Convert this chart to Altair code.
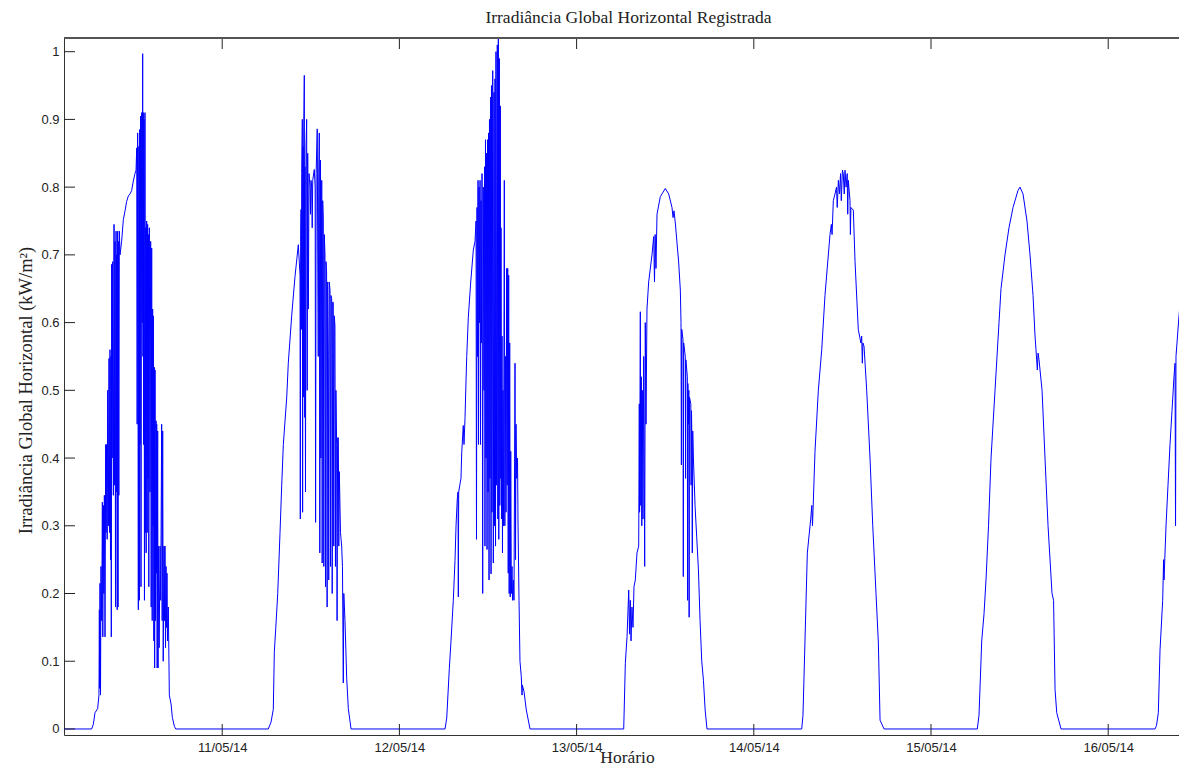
import altair as alt
import pandas as pd

# (hour of day, irradiance kW/m2), one list per day
day_10 = [(0.0, 0), (6.32, 0), (6.55, 0.007), (6.77, 0.024), (7.13, 0.03), (7.31, 0.05), (7.36, 0.176), (7.40, 0.06),
          (7.45, 0.215), (7.52, 0.05), (7.58, 0.24), (7.68, 0.16), (7.77, 0.335), (7.83, 0.136), (7.90, 0.33), (7.97, 0.20),
          (8.04, 0.345), (8.13, 0.136), (8.22, 0.42), (8.28, 0.29), (8.35, 0.42), (8.42, 0.28), (8.49, 0.50), (8.58, 0.30),
          (8.67, 0.547), (8.74, 0.29), (8.80, 0.56), (8.87, 0.25), (8.94, 0.55), (8.98, 0.136), (9.03, 0.686), (9.10, 0.40),
          (9.17, 0.69), (9.26, 0.345), (9.35, 0.745), (9.41, 0.36), (9.48, 0.72), (9.55, 0.18), (9.62, 0.735), (9.66, 0.35),
          (9.71, 0.70), (9.78, 0.176), (9.84, 0.735), (9.89, 0.18), (9.93, 0.72), (10.00, 0.345), (10.07, 0.735), (10.16, 0.70),
          (10.38, 0.72), (10.61, 0.752), (10.84, 0.765), (11.06, 0.779), (11.29, 0.787), (11.51, 0.79), (11.74, 0.795),
          (11.96, 0.809), (12.19, 0.82), (12.33, 0.825), (12.42, 0.858), (12.48, 0.45), (12.55, 0.88), (12.64, 0.176),
          (12.71, 0.86), (12.78, 0.19), (12.82, 0.885), (12.87, 0.42), (12.94, 0.905), (13.00, 0.21), (13.09, 0.91),
          (13.16, 0.60), (13.23, 0.997), (13.27, 0.55), (13.32, 0.91), (13.36, 0.42), (13.41, 0.90), (13.47, 0.19),
          (13.54, 0.91), (13.59, 0.29), (13.64, 0.74), (13.70, 0.26), (13.77, 0.75), (13.84, 0.29), (13.90, 0.745),
          (13.95, 0.37), (14.00, 0.73), (14.06, 0.21), (14.13, 0.74), (14.22, 0.35), (14.31, 0.72), (14.38, 0.18),
          (14.45, 0.71), (14.52, 0.16), (14.58, 0.62), (14.63, 0.30), (14.67, 0.61), (14.74, 0.13), (14.81, 0.534),
          (14.85, 0.09), (14.90, 0.53), (14.97, 0.16), (15.04, 0.455), (15.08, 0.23), (15.13, 0.45), (15.19, 0.09),
          (15.26, 0.44), (15.31, 0.09), (15.35, 0.27), (15.46, 0.12), (15.58, 0.27), (15.67, 0.19), (15.80, 0.45),
          (15.87, 0.16), (15.94, 0.44), (16.01, 0.10), (16.12, 0.27), (16.19, 0.16), (16.25, 0.27), (16.32, 0.12),
          (16.39, 0.24), (16.46, 0.15), (16.52, 0.23), (16.59, 0.13), (16.70, 0.18), (16.84, 0.05), (17.07, 0.037),
          (17.25, 0.017), (17.52, 0.004), (17.70, 0)]

day_11 = [(6.24, 0), (6.61, 0.01), (6.92, 0.029), (7.06, 0.114), (7.25, 0.148), (7.52, 0.20), (7.83, 0.29), (8.06, 0.36),
          (8.28, 0.42), (8.74, 0.49), (8.95, 0.54), (9.41, 0.61), (9.86, 0.668), (10.31, 0.715), (10.54, 0.67), (10.58, 0.31),
          (10.63, 0.73), (10.68, 0.767), (10.72, 0.59), (10.77, 0.82), (10.85, 0.90), (10.89, 0.32), (10.95, 0.86),
          (10.99, 0.49), (11.04, 0.88), (11.12, 0.965), (11.18, 0.46), (11.21, 0.83), (11.28, 0.35), (11.35, 0.86),
          (11.44, 0.90), (11.51, 0.50), (11.58, 0.85), (11.67, 0.62), (11.76, 0.82), (11.90, 0.80), (11.96, 0.76),
          (12.03, 0.81), (12.12, 0.80), (12.19, 0.74), (12.26, 0.81), (12.47, 0.826), (12.59, 0.80), (12.65, 0.305),
          (12.72, 0.82), (12.87, 0.886), (12.94, 0.70), (13.01, 0.55), (13.08, 0.82), (13.15, 0.88), (13.22, 0.26),
          (13.31, 0.84), (13.37, 0.40), (13.48, 0.81), (13.54, 0.245), (13.61, 0.78), (13.69, 0.754), (13.76, 0.24),
          (13.83, 0.73), (13.92, 0.70), (13.99, 0.21), (14.06, 0.69), (14.14, 0.675), (14.21, 0.18), (14.28, 0.66),
          (14.37, 0.55), (14.43, 0.22), (14.50, 0.66), (14.60, 0.648), (14.67, 0.24), (14.73, 0.64), (14.83, 0.635),
          (14.90, 0.20), (14.97, 0.63), (15.04, 0.63), (15.11, 0.27), (15.18, 0.61), (15.27, 0.595), (15.34, 0.24),
          (15.40, 0.50), (15.50, 0.42), (15.56, 0.16), (15.63, 0.43), (15.73, 0.43), (15.79, 0.27), (15.86, 0.38),
          (15.96, 0.325), (16.02, 0.29), (16.18, 0.27), (16.29, 0.24), (16.40, 0.068), (16.47, 0.20), (16.63, 0.16),
          (16.86, 0.075), (17.08, 0.03), (17.45, 0)]

day_12 = [(6.18, 0), (6.41, 0.016), (6.76, 0.089), (6.99, 0.13), (7.30, 0.19), (7.53, 0.249), (7.67, 0.30), (7.84, 0.34),
          (7.94, 0.35), (7.98, 0.195), (8.03, 0.35), (8.21, 0.362), (8.34, 0.37), (8.44, 0.408), (8.65, 0.448), (8.75, 0.42),
          (8.89, 0.46), (9.02, 0.514), (9.12, 0.55), (9.33, 0.607), (9.66, 0.66), (10.01, 0.707), (10.24, 0.72),
          (10.38, 0.75), (10.44, 0.28), (10.51, 0.77), (10.58, 0.55), (10.65, 0.81), (10.71, 0.42), (10.78, 0.80),
          (10.85, 0.60), (10.92, 0.81), (10.98, 0.42), (11.05, 0.78), (11.12, 0.57), (11.19, 0.82), (11.28, 0.20),
          (11.36, 0.80), (11.46, 0.50), (11.53, 0.83), (11.59, 0.27), (11.66, 0.87), (11.73, 0.40), (11.80, 0.85),
          (11.87, 0.265), (11.93, 0.87), (12.00, 0.35), (12.07, 0.88), (12.14, 0.22), (12.20, 0.90), (12.27, 0.37),
          (12.37, 0.933), (12.41, 0.229), (12.47, 0.95), (12.54, 0.32), (12.64, 0.972), (12.72, 0.245), (12.81, 0.94),
          (12.88, 0.30), (12.95, 0.96), (13.02, 0.27), (13.08, 1.0), (13.15, 0.36), (13.26, 1.01), (13.33, 0.31),
          (13.40, 1.03), (13.46, 0.28), (13.53, 0.99), (13.60, 0.33), (13.67, 0.92), (13.73, 0.37), (13.76, 0.74),
          (13.83, 0.31), (13.90, 0.58), (13.96, 0.26), (14.03, 0.50), (14.10, 0.30), (14.21, 0.81), (14.28, 0.30),
          (14.37, 0.55), (14.44, 0.32), (14.53, 0.68), (14.60, 0.36), (14.67, 0.68), (14.74, 0.23), (14.80, 0.67),
          (14.87, 0.20), (14.94, 0.57), (15.01, 0.195), (15.08, 0.41), (15.16, 0.20), (15.25, 0.24), (15.32, 0.19),
          (15.43, 0.22), (15.52, 0.19), (15.66, 0.54), (15.73, 0.25), (15.79, 0.45), (15.89, 0.37), (16.00, 0.40),
          (16.06, 0.31), (16.20, 0.19), (16.33, 0.10), (16.51, 0.077), (16.61, 0.05), (16.65, 0.065), (16.88, 0.055),
          (17.19, 0.028), (17.69, 0)]

day_13 = [(6.38, 0), (6.60, 0.097), (6.83, 0.136), (7.06, 0.205), (7.17, 0.14), (7.27, 0.19), (7.37, 0.13), (7.50, 0.18),
          (7.64, 0.15), (7.77, 0.21), (7.95, 0.22), (8.18, 0.26), (8.41, 0.27), (8.49, 0.48), (8.53, 0.32), (8.63, 0.616),
          (8.69, 0.33), (8.76, 0.52), (8.83, 0.30), (8.90, 0.50), (8.99, 0.31), (9.09, 0.55), (9.22, 0.24), (9.30, 0.60),
          (9.40, 0.45), (9.53, 0.62), (9.76, 0.66), (10.21, 0.70), (10.44, 0.727), (10.55, 0.66), (10.64, 0.73),
          (10.75, 0.68), (10.89, 0.76), (11.34, 0.786), (12.01, 0.798), (12.47, 0.79), (12.92, 0.77), (13.06, 0.755),
          (13.19, 0.765), (13.37, 0.747), (13.83, 0.688), (14.05, 0.648), (14.14, 0.60), (14.19, 0.39), (14.24, 0.59),
          (14.41, 0.575), (14.45, 0.225), (14.50, 0.57), (14.72, 0.55), (14.76, 0.37), (14.80, 0.545), (15.00, 0.52),
          (15.03, 0.19), (15.07, 0.51), (15.14, 0.45), (15.20, 0.50), (15.24, 0.165), (15.29, 0.49), (15.47, 0.48),
          (15.51, 0.36), (15.56, 0.47), (15.60, 0.44), (15.67, 0.26), (15.73, 0.44), (15.82, 0.40), (16.04, 0.33),
          (16.27, 0.283), (16.50, 0.235), (16.72, 0.16), (16.95, 0.10), (17.18, 0.072), (17.41, 0.028), (17.66, 0)]

day_14 = [(6.49, 0), (6.66, 0.02), (6.93, 0.13), (7.25, 0.26), (7.71, 0.31), (7.85, 0.33), (7.95, 0.30), (8.29, 0.41),
          (8.74, 0.50), (9.20, 0.56), (9.64, 0.64), (10.32, 0.73), (10.50, 0.745), (10.60, 0.73), (10.77, 0.78),
          (11.00, 0.79), (11.20, 0.80), (11.30, 0.77), (11.45, 0.81), (11.60, 0.79), (11.75, 0.82), (11.85, 0.78),
          (12.00, 0.825), (12.12, 0.82), (12.25, 0.79), (12.35, 0.825), (12.50, 0.80), (12.65, 0.82), (12.72, 0.76),
          (12.80, 0.81), (13.03, 0.78), (13.08, 0.73), (13.15, 0.77), (13.48, 0.766), (13.71, 0.69), (14.15, 0.59),
          (14.50, 0.57), (14.61, 0.58), (14.70, 0.54), (14.78, 0.57), (14.93, 0.565), (15.29, 0.50), (15.74, 0.40),
          (16.11, 0.30), (16.55, 0.20), (16.87, 0.127), (17.10, 0.013), (17.64, 0)]

day_15 = [(6.27, 0), (6.50, 0.02), (6.87, 0.13), (7.18, 0.17), (7.45, 0.22), (7.79, 0.30), (8.13, 0.40), (8.67, 0.50),
          (9.21, 0.60), (9.48, 0.65), (10.02, 0.70), (10.56, 0.74), (11.11, 0.77), (11.78, 0.795), (12.05, 0.80),
          (12.46, 0.79), (13.00, 0.75), (13.41, 0.70), (13.82, 0.64), (14.09, 0.58), (14.22, 0.56), (14.40, 0.53),
          (14.50, 0.555), (14.63, 0.545), (15.04, 0.50), (15.44, 0.40), (15.85, 0.30), (16.39, 0.20), (16.60, 0.19),
          (16.80, 0.058), (17.03, 0.024), (17.61, 0)]

day_16 = [(6.34, 0), (6.54, 0.005), (6.79, 0.024), (7.02, 0.117), (7.38, 0.19), (7.50, 0.25), (7.56, 0.22),
          (7.83, 0.30), (8.10, 0.36), (8.37, 0.42), (8.64, 0.47), (8.91, 0.52), (9.05, 0.54), (9.12, 0.30), (9.18, 0.55),
          (9.59, 0.61), (10.00, 0.66), (10.41, 0.70), (10.81, 0.72)]

days = [day_10, day_11, day_12, day_13, day_14, day_15, day_16]

tick_days = [1, 2, 3, 4, 5, 6]
tick_labels = ["11/05/14", "12/05/14", "13/05/14", "14/05/14", "15/05/14", "16/05/14"]
y_ticks = [0, 0.1, 0.2, 0.3, 0.4, 0.5, 0.6, 0.7, 0.8, 0.9, 1.0]

rows = []
for k, pts in enumerate(days):
    for h, v in pts:
        rows.append({"t": k + h / 24.0, "v": v})
df = pd.DataFrame(rows)

W, H = 1115, 697
xs = alt.Scale(domain=[0.1072, 6.3995], nice=False, zero=False)
ys = alt.Scale(domain=[-0.0089, 1.0202], nice=False, zero=False)

label_expr = " : ".join(f"datum.value == {d} ? '{lab}'" for d, lab in zip(tick_days, tick_labels)) + " : ''"

SERIF = "Liberation Serif"
SANS = "Liberation Sans"
INK = "#222"

x_axis = alt.Axis(
    values=tick_days, labelExpr=label_expr, ticks=False, tickSize=0, grid=False,
    labelFlush=False, labelFont=SANS, labelFontSize=13, labelPadding=6, labelColor=INK,
    title="Horário", titleFont=SERIF, titleFontSize=17.5, titleFontWeight="normal", titleColor=INK,
    titleX=563, titleY=27, titleBaseline="alphabetic", titleAlign="center")
y_axis = alt.Axis(
    values=y_ticks, format=".1~f", ticks=False, tickSize=0, grid=False,
    labelFont=SANS, labelFontSize=13, labelPadding=5, labelColor=INK,
    title="Irradiância Global Horizontal (kW/m²)", titleFont=SERIF, titleFontSize=18.5,
    titleFontWeight="normal", titleColor=INK, titleAngle=270, titleX=-39, titleY=352,
    titleBaseline="middle", titleAlign="center")

line = alt.Chart(df).mark_line(color="#0000ff", strokeWidth=1, clip=True).encode(
    x=alt.X("t:Q", scale=xs, axis=x_axis),
    y=alt.Y("v:Q", scale=ys, axis=y_axis),
)

xt = pd.DataFrame({"t": tick_days})
yt = pd.DataFrame({"v": y_ticks})
bottom_ticks = alt.Chart(xt).mark_rule(color=INK, strokeWidth=1).encode(
    x=alt.X("t:Q", scale=xs, axis=x_axis), y=alt.value(H), y2=alt.value(H - 11))
top_ticks = alt.Chart(xt).mark_rule(color=INK, strokeWidth=1).encode(
    x=alt.X("t:Q", scale=xs, axis=x_axis), y=alt.value(0), y2=alt.value(11))
left_ticks = alt.Chart(yt).mark_rule(color=INK, strokeWidth=1).encode(
    y=alt.Y("v:Q", scale=ys, axis=y_axis), x=alt.value(0), x2=alt.value(11))
# top frame line of the axes box (the right side lies outside the picture)
top_frame = alt.Chart(xt).mark_rule(color="#555", strokeWidth=1.5).encode(
    x=alt.value(0), x2=alt.value(W), y=alt.value(0))

chart = alt.layer(line, bottom_ticks, top_ticks, left_ticks, top_frame).properties(
    width=W, height=H,
    title=alt.TitleParams("Irradiância Global Horizontal Registrada", font=SERIF, fontSize=17.5,
                          fontWeight="normal", color=INK, anchor="middle", offset=11, dx=7),
    autosize=alt.AutoSizeParams(type="none"),
    padding={"left": 56, "top": 30, "right": 0, "bottom": 33},
).configure_view(strokeWidth=0).configure_axis(domainColor="#333", domainWidth=1)

chart.save("out.html", embed_options={"renderer": "svg", "actions": False})
